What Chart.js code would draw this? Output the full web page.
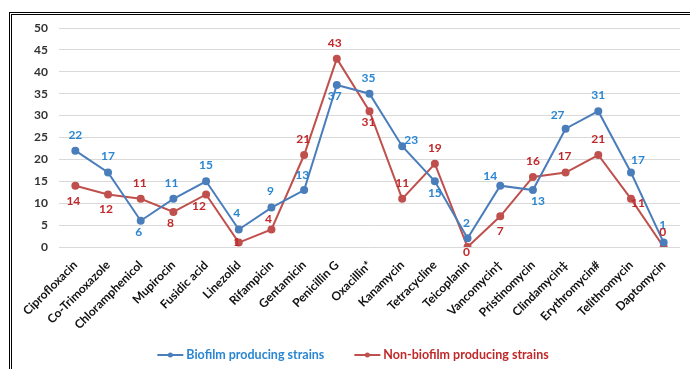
<!DOCTYPE html>
<html>
<head>
<meta charset="utf-8">
<script src="https://cdn.jsdelivr.net/npm/chart.js@4"></script>
<style>
  html, body { margin: 0; padding: 0; background: #fff; }
  #wrap { position: relative; width: 690px; height: 369px; overflow: hidden; }
  #frame { position: absolute; left: 9px; top: 12px; width: 700px; height: 400px;
           border-left: 3px double #000; border-top: 3px double #000; pointer-events: none; }
  canvas { position: absolute; left: 0; top: 0; }
</style>
</head>
<body>
<div id="wrap">
  <canvas id="chart" width="690" height="369"></canvas>
  <div id="frame"></div>
</div>
<script>
// categories + series values
const antibiotics = ["Ciprofloxacin", "Co-Trimoxazole", "Chloramphenicol", "Mupirocin", "Fusidic acid",
  "Linezolid", "Rifampicin", "Gentamicin", "Penicillin G", "Oxacillin*", "Kanamycin", "Tetracycline",
  "Teicoplanin", "Vancomycin†", "Pristinomycin", "Clindamycin‡", "Erythromycin#", "Telithromycin", "Daptomycin"];
const biofilm = [22, 17, 6, 11, 15, 4, 9, 13, 37, 35, 23, 15, 2, 14, 13, 27, 31, 17, 1];
const nonBiofilm = [14, 12, 11, 8, 12, 1, 4, 21, 43, 31, 11, 19, 0, 7, 16, 17, 21, 11, 0];
const yTicks = [0, 5, 10, 15, 20, 25, 30, 35, 40, 45, 50];

// where each value label sits relative to its point [dx, dy]
const blueLabelOffset = [[0,-16],[0,-16],[-2,11],[-2,-16],[0,-16],[-2,-16],[-1,-16],[-2,-15],[-2,11],[-1,-16],
  [9,-6],[0,12],[-1,-15],[-10,-10],[5,11],[-8,-14],[0,-16],[7,-12],[-1,-17]];
const redLabelOffset = [[-2,15],[-2,15],[-1,-16],[-3,11],[-7,12],[-2,0],[-3,-10],[-1,-16],[-2,-16],[-1,11],
  [0,-16],[0,-16],[-1,5],[0,15],[0,-16],[-1,-16],[0,-16],[7,4],[-1,-15]];

const BLUE = "#4a7ebb", RED = "#c0504d";
const BLUE_TXT = "#2a86d1", RED_TXT = "#c0282a";
const FONT = "Lato, 'Open Sans', sans-serif";

// value labels drawn next to each point
const valueLabels = {
  id: "valueLabels",
  afterDatasetsDraw(chart) {
    const ctx = chart.ctx;
    ctx.save();
    ctx.font = "bold 12px " + FONT;
    ctx.textAlign = "center";
    ctx.textBaseline = "middle";
    chart.data.datasets.forEach((ds, di) => {
      const meta = chart.getDatasetMeta(di);
      const offs = di === 0 ? blueLabelOffset : redLabelOffset;
      ctx.fillStyle = di === 0 ? BLUE_TXT : RED_TXT;
      meta.data.forEach((pt, i) => {
        ctx.fillText(String(ds.data[i]), pt.x + offs[i][0], pt.y + offs[i][1]);
      });
    });
    ctx.restore();
  }
};

// bottom legend: line + dot marker, coloured text
const lineLegend = {
  id: "lineLegend",
  afterDraw(chart) {
    const ctx = chart.ctx;
    const y = 355;
    ctx.save();
    ctx.font = "bold 12.5px " + FONT;
    ctx.textBaseline = "middle";
    const items = chart.data.datasets.map(ds => ({
      text: ds.label, color: ds.borderColor, txt: ds.label.startsWith("Non") ? RED_TXT : BLUE_TXT,
      w: 29 + ctx.measureText(ds.label).width
    }));
    const gap = 30;
    const total = items.reduce((s, it) => s + it.w, 0) + gap * (items.length - 1);
    let x = 353 - total / 2;
    items.forEach(it => {
      ctx.strokeStyle = it.color;
      ctx.lineWidth = 2;
      ctx.beginPath();
      ctx.moveTo(x, y); ctx.lineTo(x + 26, y);
      ctx.stroke();
      ctx.fillStyle = it.color;
      ctx.beginPath();
      ctx.arc(x + 13, y, 2.5, 0, Math.PI * 2);
      ctx.fill();
      ctx.fillStyle = it.txt;
      ctx.fillText(it.text, x + 29, y);
      x += it.w + gap;
    });
    ctx.restore();
  }
};

const ctx = document.getElementById("chart").getContext("2d");
new Chart(ctx, {
  type: "line",
  data: {
    labels: antibiotics,
    datasets: [{
      label: "Biofilm producing strains",
      data: biofilm,
      borderColor: BLUE,
      backgroundColor: BLUE,
      borderWidth: 2,
      pointRadius: 3,
      pointHoverRadius: 3,
      tension: 0
    }, {
      label: "Non-biofilm producing strains",
      data: nonBiofilm,
      borderColor: RED,
      backgroundColor: RED,
      borderWidth: 2,
      pointRadius: 3,
      pointHoverRadius: 3,
      tension: 0
    }]
  },
  options: {
    responsive: false,
    animation: false,
    layout: { padding: { left: 12, right: 10, top: 28, bottom: 32 } },
    plugins: {
      legend: { display: false },
      tooltip: { enabled: false }
    },
    scales: {
      x: {
        offset: true,
        grid: { display: false },
        border: { display: false },
        ticks: {
          minRotation: 45,
          maxRotation: 45,
          autoSkip: false,
          color: "#111",
          padding: 3,
          font: { family: FONT, size: 12, weight: "bold" }
        },
        afterFit: s => { s.height = 90; }
      },
      y: {
        min: 0,
        max: 50,
        afterBuildTicks: s => { s.ticks = yTicks.map(v => ({ value: v })); },
        grid: { color: "#d9d9d9", lineWidth: 1, drawTicks: false },
        border: { display: false },
        ticks: {
          color: "#333",
          padding: 11,
          font: { family: FONT, size: 12, weight: "bold" }
        },
        afterFit: s => { s.width = 47; }
      }
    }
  },
  plugins: [valueLabels, lineLegend]
});
</script>
</body>
</html>
